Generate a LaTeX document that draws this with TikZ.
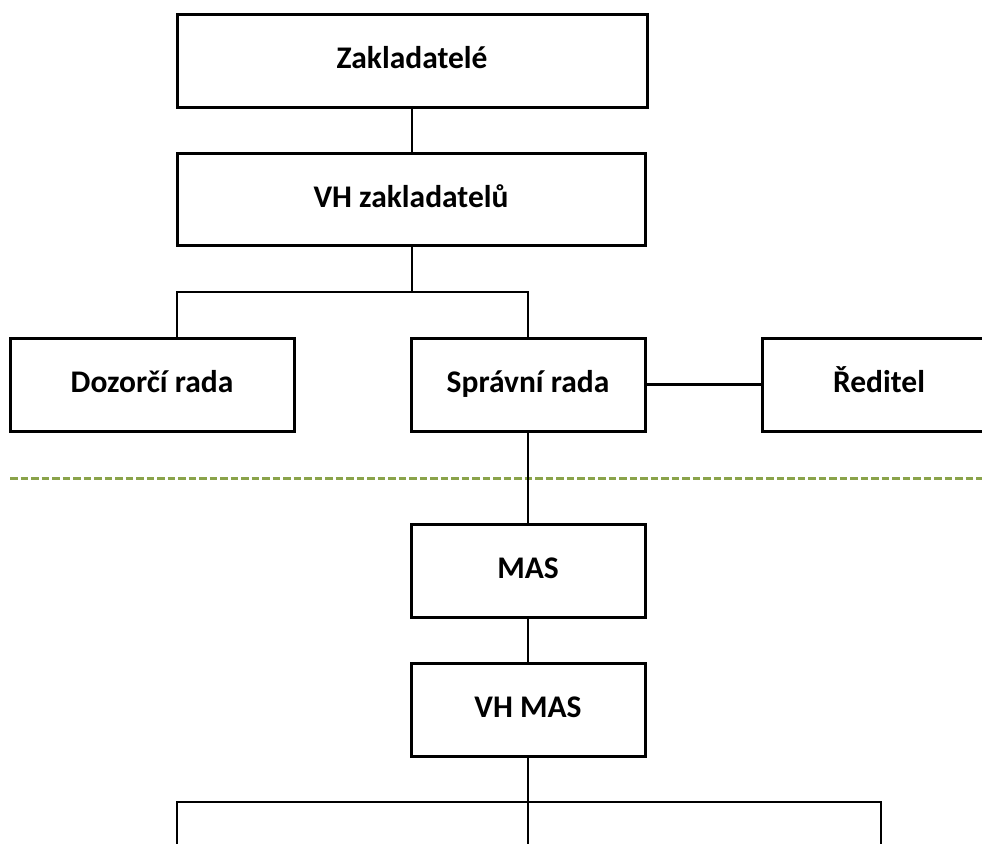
\documentclass[tikz,border=0pt]{standalone}
\usepackage{fontspec}
\setmainfont{Carlito}
\definecolor{dashgreen}{HTML}{8AA34A}
\begin{document}
\begin{tikzpicture}[x=1pt,y=-1pt,
  orgbox/.style={draw=black,line width=3pt,rectangle,inner sep=0pt,
    text height=22pt,text depth=6pt,
    font=\fontsize{31.5}{36}\selectfont\bfseries},
  conn/.style={draw=black,line width=2.8pt},
  sep/.style={draw=dashgreen,line width=3pt,dash pattern=on 7.5pt off 3pt}]
\useasboundingbox (0,0) rectangle (982,843);
\clip (0,0) rectangle (982,843);
\node[orgbox,minimum width=470,minimum height=92] (zak) at (412,61) {Zakladatelé};
\node[orgbox,minimum width=468,minimum height=92] (vhz) at (411,199.5) {VH zakladatelů};
\node[orgbox,minimum width=284,minimum height=93] (doz) at (152,384.5) {Dozorčí rada};
\node[orgbox,minimum width=234,minimum height=93] (spr) at (528,384.5) {Správní rada};
\node[orgbox,minimum width=234,minimum height=93] (red) at (879,384.5) {Ředitel};
\node[orgbox,minimum width=234,minimum height=93] (mas) at (528,570.5) {MAS};
\node[orgbox,minimum width=234,minimum height=93] (vhm) at (528,709.5) {VH MAS};
\coordinate (j1) at (412,292);
\coordinate (dtop) at (177,338);
\coordinate (j2) at (528,802);
\coordinate (bl) at (177,860);
\coordinate (bm) at (528,860);
\coordinate (br) at (881,860);
\coordinate (dl) at (10,478);
\coordinate (dr) at (990,478);
\draw[sep] (dl) -- (dr);
\draw[conn] (zak.south -| j1) -- (vhz.north -| j1);
\draw[conn] (vhz.south -| j1) -- (j1);
\draw[conn] (j1) -| (dtop);
\draw[conn] (j1) -| (spr.north);
\draw[conn] (spr.east) -- (red.west);
\draw[conn] (spr.south) -- (mas.north);
\draw[conn] (mas.south) -- (vhm.north);
\draw[conn] (vhm.south) -- (j2);
\draw[conn] (bl) |- (j2) -| (br);
\draw[conn] (j2) -- (bm);
\end{tikzpicture}
\end{document}
